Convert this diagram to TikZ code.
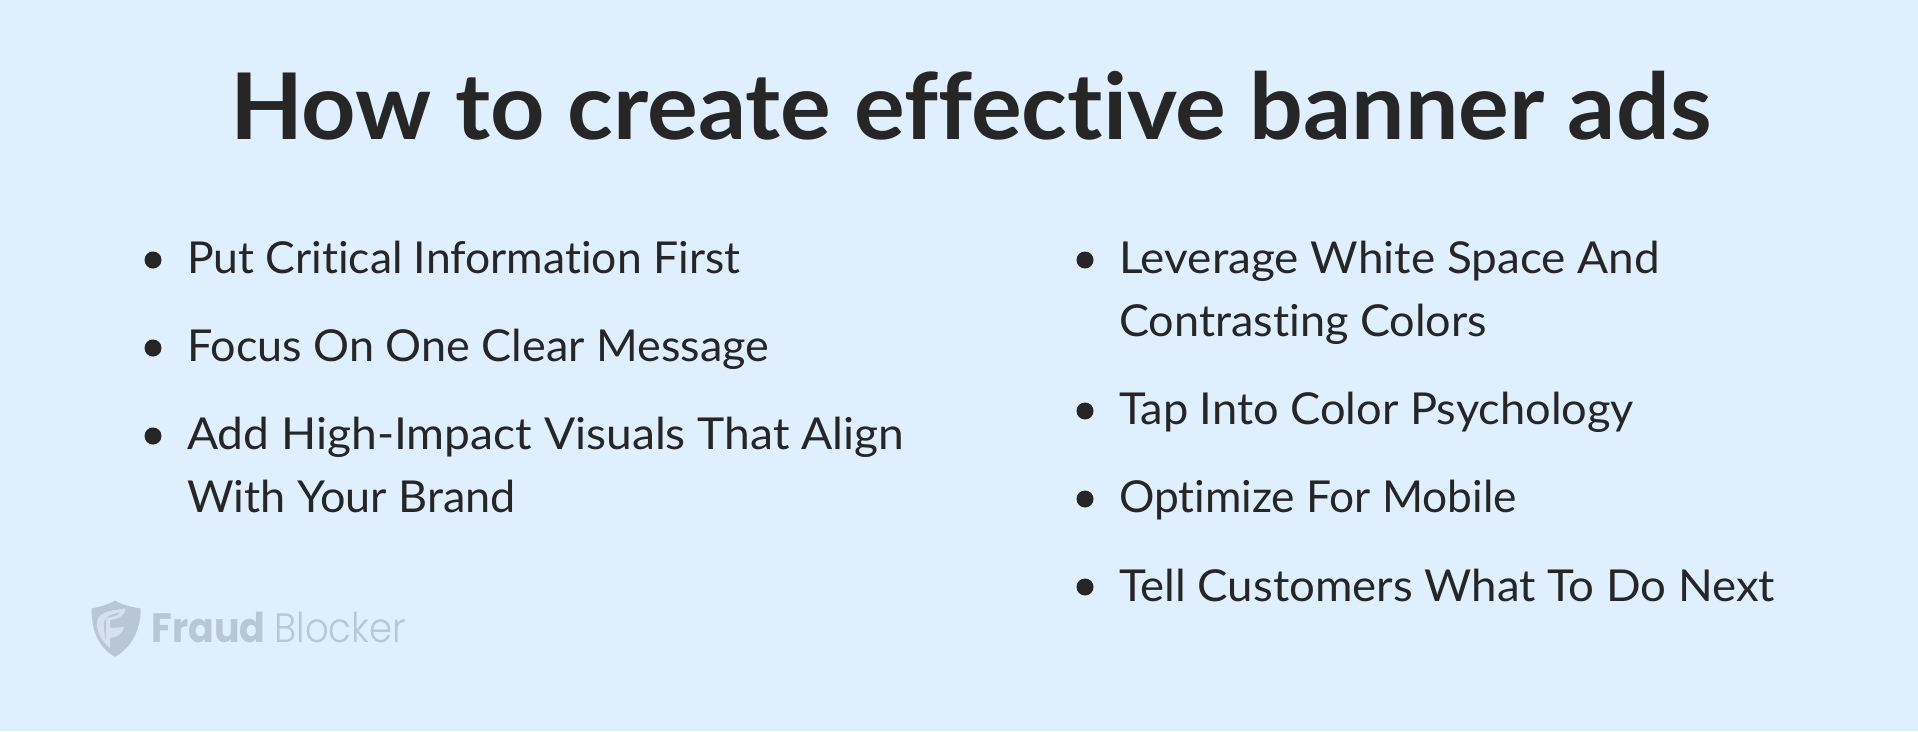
\documentclass[tikz,border=0pt]{standalone}
\usepackage{graphicx}
\usepackage{fontspec}
\setmainfont{Lato}[Ligatures=NoCommon]
\newfontfamily\logobold{Poppins}[UprightFont=* Bold]
\newfontfamily\logolight{Poppins}[UprightFont=* Light]
\definecolor{bgblue}{HTML}{DFEFFE}
\definecolor{ink}{HTML}{262626}
\definecolor{logogrey}{HTML}{B9C6D3}
\definecolor{logopale}{HTML}{D5E2EE}
\newcommand{\fitw}[2]{\resizebox{#1pt}{\height}{#2}}
\tikzset{
  item/.style={anchor=base west,inner sep=0pt,outer sep=0pt,text=ink,font=\fontsize{44}{44}\selectfont},
  dot/.style={circle,fill=ink,draw=none,minimum size=17pt,inner sep=0pt},
  logotext/.style={anchor=base west,inner sep=0pt,outer sep=0pt,text=logogrey}
}
\begin{document}
\begin{tikzpicture}[x=1pt,y=-1pt]
\useasboundingbox (0,0) rectangle (1918,731);
\fill[bgblue] (0,0) rectangle (1918,731);
\node[anchor=base west,inner sep=0pt,text=ink,font=\fontsize{92}{92}\selectfont\bfseries] (title) at (230,139) {\fitw{1481}{How to create effective banner ads}};
\node[dot] (b1) at (153,260) {};
\node[dot] (b2) at (153,348) {};
\node[dot] (b3) at (153,436) {};
\node[dot] (b4) at (1085,260) {};
\node[dot] (b5) at (1085,411) {};
\node[dot] (b6) at (1085,499) {};
\node[dot] (b7) at (1085,587) {};
\node[item] (l1) at (187,273) {\fitw{553}{Put Critical Information First}};
\node[item] (l2) at (187,361) {\fitw{582}{Focus On One Clear Message}};
\node[item] (l3) at (187,449) {\fitw{717}{Add High-Impact Visuals That Align}};
\node[item] (l4) at (187,512) {\fitw{329}{With Your Brand}};
\node[item] (r1) at (1119,273) {\fitw{541}{Leverage White Space And}};
\node[item] (r2) at (1119,336) {\fitw{368}{Contrasting Colors}};
\node[item] (r3) at (1119,424) {\fitw{515}{Tap Into Color Psychology}};
\node[item] (r4) at (1119,512) {\fitw{398}{Optimize For Mobile}};
\node[item] (r5) at (1119,601) {\fitw{656}{Tell Customers What To Do Next}};
% logo shield
\fill[logogrey] (115,600.7) .. controls (107,605) and (99,607) .. (91.7,608.5) .. controls (91,628) and (98,648) .. (115,656.7) .. controls (132,648) and (141,628) .. (140.7,608.5) .. controls (131,607) and (123,605) .. (115,600.7) -- cycle;
\fill[logopale] (97,626) .. controls (96,614) and (104,611) .. (125.5,608.5) .. controls (125,616) and (118,619) .. (110,620) -- (110,628) -- (124,627) .. controls (123,634) and (117,637) .. (110,638) -- (110,648) .. controls (103,643) and (98,634) .. (97,626) -- cycle;
\fill[logogrey] (104,626) .. controls (103,618) and (108,615) .. (120,612.5) .. controls (118,616) and (112,617) .. (106,618) -- (106,640) .. controls (105,636) and (104,631) .. (104,626) -- cycle;
\node[logotext,font=\logobold\fontsize{41}{41}\selectfont] (fraud) at (151.5,642.7) {\fitw{114}{Fraud}};
\node[logotext,font=\logolight\fontsize{41}{41}\selectfont] (blocker) at (274.5,642.7) {\fitw{131}{Blocker}};
\end{tikzpicture}
\end{document}
